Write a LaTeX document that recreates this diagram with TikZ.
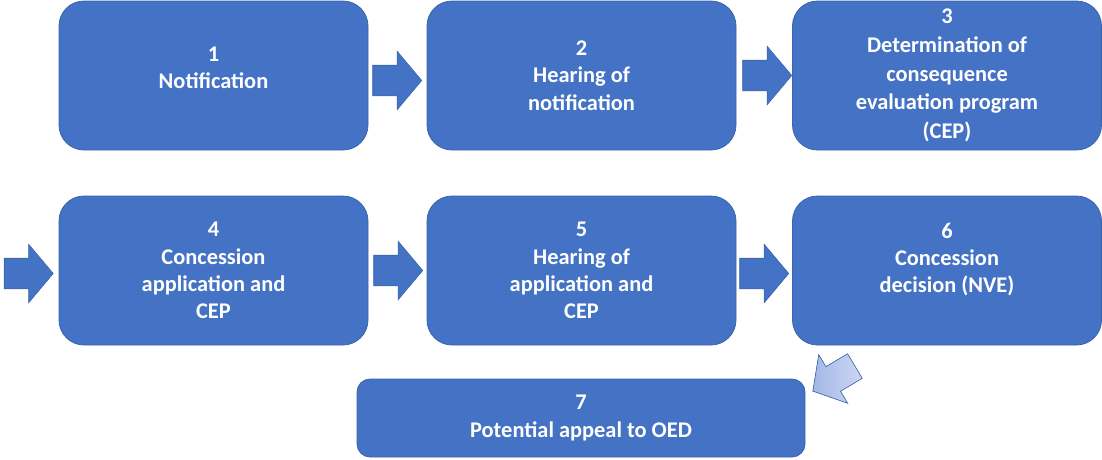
\documentclass[tikz,border=0pt]{standalone}
\usepackage{fontspec}
\setmainfont{Carlito}
\usepackage{tikz}
\usetikzlibrary{positioning,shapes.arrows}

\definecolor{stepblue}{HTML}{4472C4}
\definecolor{stepline}{HTML}{3A63AE}
\definecolor{appeallight}{HTML}{CDD7F1}
\definecolor{appealdark}{HTML}{A3B7E6}

\tikzset{
    stepbox/.style={draw=stepline, fill=stepblue, line width=0.8pt, rounded corners=25pt,
        minimum width=309pt, minimum height=149pt, align=center, text=white,
        font=\bfseries\fontsize{22.4}{27.3}\selectfont},
    plain/.style={},
    liftone/.style={text depth=16pt},
    liftsix/.style={text depth=25pt},
    widelines/.style={font=\bfseries\fontsize{22.4}{28.6}\selectfont},
    blockarrow/.style={single arrow, draw=stepline, fill=stepblue, line width=0.6pt,
        inner xsep=0pt, inner ysep=15pt, minimum height=49pt,
        single arrow head extend=14pt, single arrow tip angle=100},
}

\begin{document}
\begin{tikzpicture}[x=1pt, y=-1pt]
    \useasboundingbox (0,0) rectangle (1102,459);
    % Process steps
    \foreach \n/\x/\y/\o/\t in {
        1/213.5/75.5/liftone/{1\\Notification},
        2/581.5/75.5/plain/{2\\Hearing of\\notification},
        3/947/75.5/widelines/{3\\Determination of\\consequence\\evaluation program\\(CEP)},
        4/213.5/270.5/plain/{4\\Concession\\application and\\CEP},
        5/581.5/270.5/plain/{5\\Hearing of\\application and\\CEP},
        6/947/270.5/liftsix/{6\\Concession\\decision (NVE)}} {
        \node[stepbox, \o] (b\n) at (\x,\y) {\t};
    }
    \node[stepbox, rounded corners=13pt, minimum width=448pt, minimum height=78pt]
        (b7) at (581,418) {7\\Potential appeal to OED};
    % Arrows between steps
    \node[blockarrow, right=4pt of b1, yshift=-5pt] (a12) {};
    \node[blockarrow, right=6pt of b2] (a23) {};
    \node[blockarrow, left=5pt of b4, yshift=-3pt] (a34) {};
    \node[blockarrow, right=5pt of b4] (a45) {};
    \node[blockarrow, right=3pt of b5, yshift=-3pt] (a56) {};
    \node[blockarrow, rotate=210.8, inner ysep=14pt, draw=stepline,
        left color=appealdark, right color=appeallight] (a67) at (839,375.5) {};
\end{tikzpicture}
\end{document}
